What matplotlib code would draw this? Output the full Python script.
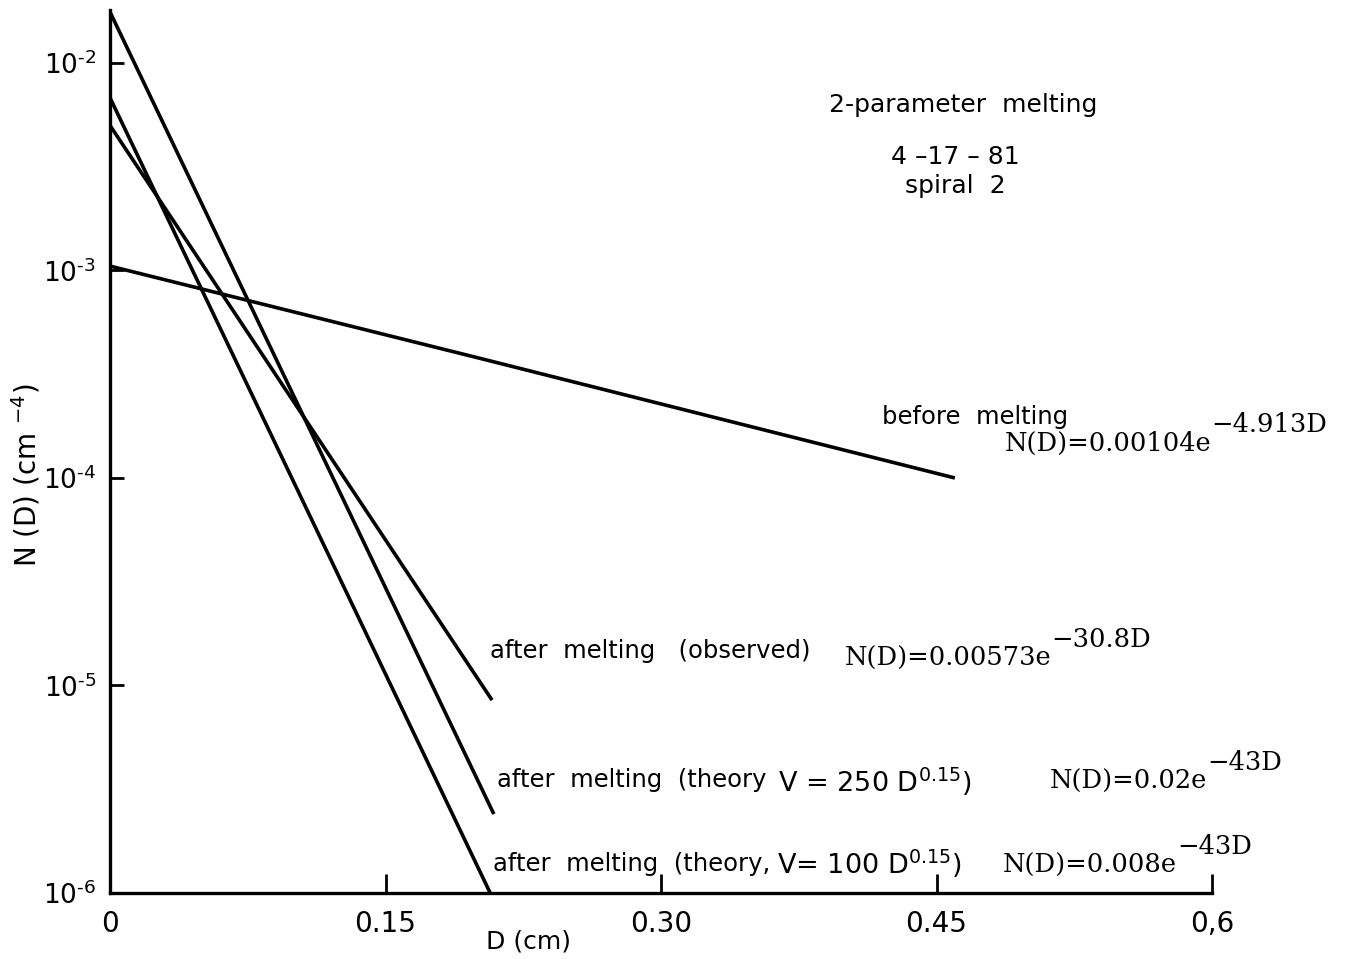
import matplotlib
matplotlib.use("Agg")
import matplotlib.pyplot as plt

# valores (D em cm, N(D) em cm^-4)
antes_d = [0.0, 0.20, 0.46]
antes_n = [1.05e-3, 3.8e-4, 1.0e-4]
observado_d = [0.0, 0.208]
observado_n = [5.0e-3, 8.5e-6]
teoria250_d = [0.0, 0.209]
teoria250_n = [1.76e-2, 2.4e-6]
teoria100_d = [0.0, 0.207]
teoria100_n = [6.8e-3, 1.0e-6]

xticks = [0, 0.15, 0.30, 0.45, 0.6]
xtick_labels = ["0", "0.15", "0.30", "0.45", "0,6"]
yticks = [1e-6, 1e-5, 1e-4, 1e-3, 1e-2]
ytick_labels = [r"$\mathregular{10^{\text{-}6}}$", r"$\mathregular{10^{\text{-}5}}$",
                r"$\mathregular{10^{\text{-}4}}$", r"$\mathregular{10^{\text{-}3}}$",
                r"$\mathregular{10^{\text{-}2}}$"]

W, H = 1345, 959
SANS = "DejaVu Sans"
SERIF = "DejaVu Serif"


def px(x, y):
    # pixel da imagem -> fração da figura
    return x / W, 1 - y / H


fig = plt.figure(figsize=(13.45, 9.59), dpi=100)
ax = fig.add_axes([110 / W, 1 - 893 / H, (1212 - 110) / W, (893 - 10) / H])

for d, n in [(antes_d, antes_n), (observado_d, observado_n),
             (teoria250_d, teoria250_n), (teoria100_d, teoria100_n)]:
    ax.plot(d, n, color="black", lw=2.6, solid_capstyle="butt")

ax.set_yscale("log")
ax.set_xlim(0, 0.6)
ax.set_ylim(1e-6, 1.8e-2)
ax.spines["top"].set_visible(False)
ax.spines["right"].set_visible(False)
for s in ["left", "bottom"]:
    ax.spines[s].set_linewidth(2.4)

ax.set_xticks(xticks)
ax.set_xticklabels(xtick_labels, fontsize=20, family=SANS)
ax.set_yticks(yticks)
ax.set_yticklabels(ytick_labels, fontsize=19, family=SANS)
ax.yaxis.set_minor_locator(matplotlib.ticker.NullLocator())
ax.tick_params(axis="x", direction="in", length=14, width=2, pad=12)
ax.tick_params(axis="y", direction="in", length=10, width=2, pad=10)

fig.text(*px(528, 942), "D (cm)", fontsize=18, family=SANS, ha="center", va="center")
fig.text(*px(26, 475), r"N (D) (cm $^{-4}$)", fontsize=20, family=SANS,
         rotation=90, ha="center", va="center")

fig.text(*px(963, 105), "2-parameter  melting", fontsize=18, family=SANS,
         ha="center", va="center")
fig.text(*px(955, 157), "4 –17 – 81", fontsize=18, family=SANS, ha="center", va="center")
fig.text(*px(955, 186), "spiral  2", fontsize=18, family=SANS, ha="center", va="center")

fig.text(*px(882, 417), "before  melting", fontsize=17.5, family=SANS, va="center")
fig.text(*px(490, 651), "after  melting   (observed)", fontsize=17.5, family=SANS, va="center")
fig.text(*px(497, 780), "after  melting  (theory", fontsize=17.5, family=SANS, va="center")
fig.text(*px(778, 782), r"V = 250 D$^{0.15}$)", fontsize=19.5, family=SANS, va="center")
fig.text(*px(493, 864), "after  melting  (theory,", fontsize=17.5, family=SANS, va="center")
fig.text(*px(777, 864), r"V= 100 D$^{0.15}$)", fontsize=19.5, family=SANS, va="center")


def formula(x, y, base, expoente):
    t = fig.text(*px(x, y), base, fontsize=18.5, family=SERIF, va="center")
    ax.annotate(expoente, xy=(1, 1.25), xycoords=t, fontsize=18.5, family=SERIF,
                ha="left", va="center", annotation_clip=False)


formula(1005, 443, "N(D)=0.00104e", "−4.913D")
formula(845, 658, "N(D)=0.00573e", "−30.8D")
formula(1050, 781, "N(D)=0.02e", "−43D")
formula(1003, 865, "N(D)=0.008e", "−43D")

fig.savefig("out.png", dpi=100)
